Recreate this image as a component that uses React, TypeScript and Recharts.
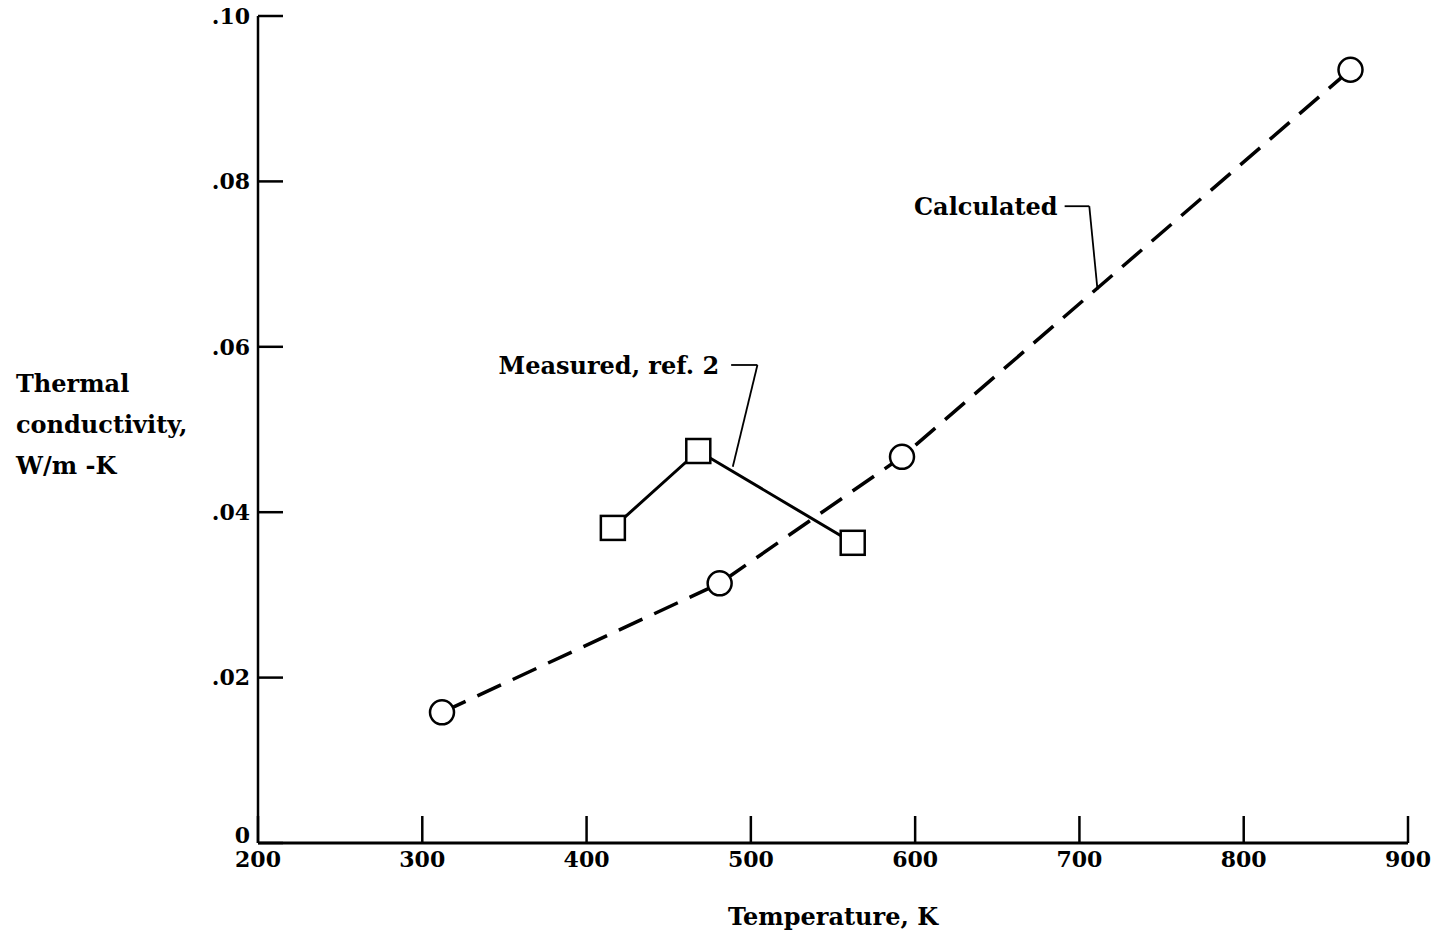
import React from 'react';
import { LineChart, Line, XAxis, YAxis, ReferenceLine, ReferenceDot } from 'recharts';

// values
const calcTemp = [312, 481, 592, 865];
const calcK = [0.0158, 0.0314, 0.0467, 0.0935];
const measTemp = [416, 468, 562];
const measK = [0.0381, 0.0474, 0.0363];

const xTicks = [200, 300, 400, 500, 600, 700, 800, 900];
const yTicks = [0, 0.02, 0.04, 0.06, 0.08, 0.1];
const yLabelLines = ['Thermal', 'conductivity,', 'W/m -K'];

// leader lines for the two callouts (data coordinates)
const calcLeader = [
  { x: 691, y: 0.0770 },
  { x: 706, y: 0.0770 },
  { x: 711, y: 0.0669 },
];
const measLeader = [
  { x: 488, y: 0.0578 },
  { x: 504, y: 0.0578 },
  { x: 489, y: 0.0455 },
];

const calculated = calcTemp.map((t, i) => ({ t, k: calcK[i] }));
const measured = measTemp.map((t, i) => ({ t, k: measK[i] }));

const FONT = '"DejaVu Serif", serif';
const tickStyle = { fontFamily: FONT, fontSize: 22, fontWeight: 'bold', fill: '#000' };
const labelStyle = { fontFamily: FONT, fontSize: 24, fontWeight: 'bold', fill: '#000' };

const Square = (props: any) => {
  const { cx, cy } = props;
  if (cx == null || cy == null) return null;
  return <rect x={cx - 12} y={cy - 12} width={24} height={24} fill="#fff" stroke="#000" strokeWidth={2.5} />;
};

const Circle = (props: any) => {
  const { cx, cy } = props;
  if (cx == null || cy == null) return null;
  return <circle cx={cx} cy={cy} r={12} fill="#fff" stroke="#000" strokeWidth={2.5} />;
};

const fmtY = (v: number) => (v === 0 ? '0' : v.toFixed(2).replace(/^0/, ''));

// y tick labels; the zero sits a little above the x axis as in the original
const YTick = (props: any) => {
  const { x, y, payload } = props;
  const lift = payload.value === 0 ? -8 : 0;
  return (
    <text x={x} y={y + lift} dy="0.355em" textAnchor="end" {...tickStyle}>
      {fmtY(payload.value)}
    </text>
  );
};

const YLabel = () => (
  <text {...labelStyle}>
    {yLabelLines.map((line, i) => (
      <tspan key={line} x={16} y={392 + i * 41}>{line}</tspan>
    ))}
  </text>
);

export default function App() {
  return (
    <div style={{ position: 'absolute', left: 0, top: 0, background: '#fff' }}>
      <LineChart width={1435} height={934} margin={{ top: 16, right: 27, bottom: 9, left: 158 }}>
        <XAxis
          type="number"
          dataKey="t"
          domain={[200, 900]}
          ticks={xTicks}
          allowDataOverflow
          height={82}
          tickSize={-27}
          tickMargin={35}
          tick={tickStyle}
          axisLine={{ stroke: '#000', strokeWidth: 3 }}
          tickLine={{ stroke: '#000', strokeWidth: 2.5 }}
          label={{ value: 'Temperature, K', position: 'insideBottom', offset: 0, style: labelStyle }}
        />
        <YAxis
          type="number"
          dataKey="k"
          domain={[0, 0.1]}
          ticks={yTicks}
          width={100}
          tickSize={-25}
          tickMargin={33}
          tick={<YTick />}
          axisLine={{ stroke: '#000', strokeWidth: 2.5 }}
          tickLine={{ stroke: '#000', strokeWidth: 2.5 }}
          label={{ content: () => <YLabel /> }}
        />

        <ReferenceLine segment={[calcLeader[0], calcLeader[1]]} stroke="#000" strokeWidth={1.8} ifOverflow="visible" />
        <ReferenceLine segment={[calcLeader[1], calcLeader[2]]} stroke="#000" strokeWidth={1.8} ifOverflow="visible" />
        <ReferenceLine segment={[measLeader[0], measLeader[1]]} stroke="#000" strokeWidth={1.8} ifOverflow="visible" />
        <ReferenceLine segment={[measLeader[1], measLeader[2]]} stroke="#000" strokeWidth={1.8} ifOverflow="visible" />

        <Line
          data={calculated}
          dataKey="k"
          type="linear"
          stroke="#000"
          strokeWidth={3.5}
          strokeDasharray="26 13"
          dot={<Circle />}
          activeDot={false}
          isAnimationActive={false}
        />
        <Line
          data={measured}
          dataKey="k"
          type="linear"
          stroke="#000"
          strokeWidth={3}
          dot={<Square />}
          activeDot={false}
          isAnimationActive={false}
        />

        <ReferenceDot
          x={calcLeader[0].x}
          y={calcLeader[0].y}
          r={0}
          fill="none"
          stroke="none"
          ifOverflow="visible"
          label={{ value: 'Calculated', position: 'left', offset: 7, style: labelStyle }}
        />
        <ReferenceDot
          x={measLeader[0].x}
          y={measLeader[0].y}
          r={0}
          fill="none"
          stroke="none"
          ifOverflow="visible"
          label={{ value: 'Measured, ref. 2', position: 'left', offset: 12, style: labelStyle }}
        />
      </LineChart>
    </div>
  );
}
